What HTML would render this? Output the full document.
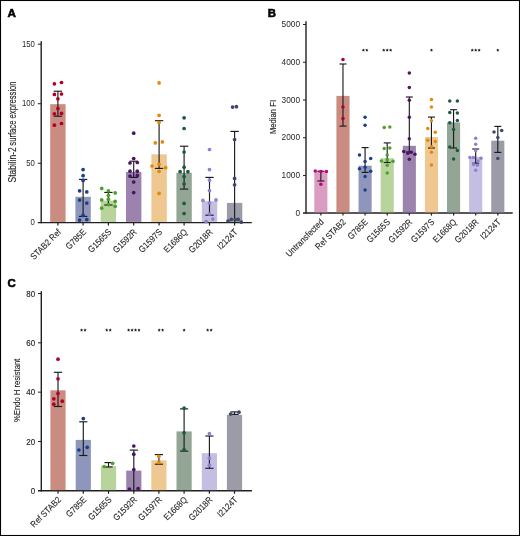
<!DOCTYPE html>
<html><head><meta charset="utf-8"><style>
html,body{margin:0;padding:0;background:#fff;}
svg{display:block;will-change:transform;}
text{font-family:"Liberation Sans", sans-serif;}
</style></head><body>
<svg width="520" height="536" viewBox="0 0 520 536" fill="#231f20">
<rect x="0" y="0" width="520" height="536" fill="#fff"/>
<text x="7.50" y="17.00" font-size="11.7" text-anchor="start" font-weight="bold" fill="#000" stroke="#000" stroke-width="0.55">A</text>
<line x1="41.20" y1="41.20" x2="41.20" y2="223.20" stroke="#231f20" stroke-width="1.4"/>
<line x1="37.80" y1="222.60" x2="251.80" y2="222.60" stroke="#231f20" stroke-width="1.4"/>
<line x1="37.80" y1="44.19" x2="41.20" y2="44.19" stroke="#231f20" stroke-width="1.0"/>
<line x1="37.80" y1="103.73" x2="41.20" y2="103.73" stroke="#231f20" stroke-width="1.0"/>
<line x1="37.80" y1="163.26" x2="41.20" y2="163.26" stroke="#231f20" stroke-width="1.0"/>
<text x="34.90" y="46.59" font-size="9.3" text-anchor="end" textLength="12.899999999999999" lengthAdjust="spacingAndGlyphs">150</text>
<text x="34.90" y="106.13" font-size="9.3" text-anchor="end" textLength="12.899999999999999" lengthAdjust="spacingAndGlyphs">100</text>
<text x="34.90" y="165.66" font-size="9.3" text-anchor="end" textLength="8.6" lengthAdjust="spacingAndGlyphs">50</text>
<text x="34.90" y="225.20" font-size="9.3" text-anchor="end" textLength="4.3" lengthAdjust="spacingAndGlyphs">0</text>
<text x="16.20" y="182.40" font-size="10.8" text-anchor="start" textLength="35.2" lengthAdjust="spacingAndGlyphs" transform="rotate(-90 16.20 182.40)" stroke="#231f20" stroke-width="0.14">Stabilin-2</text>
<text x="16.20" y="81.40" font-size="10.8" text-anchor="end" textLength="64.3" lengthAdjust="spacingAndGlyphs" transform="rotate(-90 16.20 81.40)" stroke="#231f20" stroke-width="0.14">surface expression</text>
<rect x="50.20" y="104.20" width="15.40" height="117.70" fill="#ca8b80"/>
<line x1="57.90" y1="91.20" x2="57.90" y2="116.20" stroke="#1c1c1e" stroke-width="1.15"/>
<line x1="53.70" y1="91.20" x2="62.10" y2="91.20" stroke="#1c1c1e" stroke-width="1.15"/>
<line x1="53.70" y1="116.20" x2="62.10" y2="116.20" stroke="#1c1c1e" stroke-width="1.15"/>
<circle cx="54.40" cy="83.80" r="1.85" fill="#b00026"/>
<circle cx="61.50" cy="82.50" r="1.85" fill="#b00026"/>
<circle cx="54.40" cy="94.40" r="1.85" fill="#b00026"/>
<circle cx="61.50" cy="94.00" r="1.85" fill="#b00026"/>
<circle cx="57.90" cy="98.80" r="1.85" fill="#b00026"/>
<circle cx="57.90" cy="108.50" r="1.85" fill="#b00026"/>
<circle cx="54.40" cy="113.80" r="1.85" fill="#b00026"/>
<circle cx="61.50" cy="113.30" r="1.85" fill="#b00026"/>
<circle cx="54.40" cy="125.20" r="1.85" fill="#b00026"/>
<circle cx="61.50" cy="123.50" r="1.85" fill="#b00026"/>
<line x1="57.90" y1="222.60" x2="57.90" y2="225.60" stroke="#231f20" stroke-width="1.2"/>
<text x="61.60" y="232.60" font-size="9.0" text-anchor="end" textLength="39.03" lengthAdjust="spacingAndGlyphs" transform="rotate(-45 61.60 232.60)" stroke="#231f20" stroke-width="0.12">STAB2 Ref</text>
<rect x="75.40" y="196.80" width="15.40" height="25.10" fill="#8e96bb"/>
<line x1="83.10" y1="179.40" x2="83.10" y2="216.40" stroke="#1c1c1e" stroke-width="1.15"/>
<line x1="78.90" y1="179.40" x2="87.30" y2="179.40" stroke="#1c1c1e" stroke-width="1.15"/>
<line x1="78.90" y1="216.40" x2="87.30" y2="216.40" stroke="#1c1c1e" stroke-width="1.15"/>
<circle cx="83.10" cy="169.60" r="1.85" fill="#1c3e87"/>
<circle cx="83.10" cy="175.70" r="1.85" fill="#1c3e87"/>
<circle cx="83.10" cy="180.40" r="1.85" fill="#1c3e87"/>
<circle cx="79.60" cy="190.80" r="1.85" fill="#1c3e87"/>
<circle cx="86.80" cy="191.90" r="1.85" fill="#1c3e87"/>
<circle cx="79.60" cy="200.10" r="1.85" fill="#1c3e87"/>
<circle cx="86.80" cy="203.10" r="1.85" fill="#1c3e87"/>
<circle cx="83.10" cy="215.40" r="1.85" fill="#1c3e87"/>
<circle cx="79.60" cy="220.10" r="1.85" fill="#1c3e87"/>
<circle cx="86.80" cy="219.60" r="1.85" fill="#1c3e87"/>
<line x1="83.10" y1="222.60" x2="83.10" y2="225.60" stroke="#231f20" stroke-width="1.2"/>
<text x="86.80" y="232.60" font-size="9.0" text-anchor="end" textLength="24.66" lengthAdjust="spacingAndGlyphs" transform="rotate(-45 86.80 232.60)" stroke="#231f20" stroke-width="0.12">G785E</text>
<rect x="100.70" y="200.60" width="15.40" height="21.30" fill="#b9d39c"/>
<line x1="108.40" y1="192.40" x2="108.40" y2="205.00" stroke="#1c1c1e" stroke-width="1.15"/>
<line x1="104.20" y1="192.40" x2="112.60" y2="192.40" stroke="#1c1c1e" stroke-width="1.15"/>
<line x1="104.20" y1="205.00" x2="112.60" y2="205.00" stroke="#1c1c1e" stroke-width="1.15"/>
<circle cx="101.70" cy="188.40" r="1.85" fill="#4ba02b"/>
<circle cx="108.40" cy="190.80" r="1.85" fill="#4ba02b"/>
<circle cx="115.20" cy="192.90" r="1.85" fill="#4ba02b"/>
<circle cx="108.40" cy="195.30" r="1.85" fill="#4ba02b"/>
<circle cx="101.70" cy="199.90" r="1.85" fill="#4ba02b"/>
<circle cx="108.40" cy="199.20" r="1.85" fill="#4ba02b"/>
<circle cx="115.20" cy="201.40" r="1.85" fill="#4ba02b"/>
<circle cx="108.40" cy="204.60" r="1.85" fill="#4ba02b"/>
<circle cx="115.20" cy="206.30" r="1.85" fill="#4ba02b"/>
<circle cx="101.70" cy="208.20" r="1.85" fill="#4ba02b"/>
<line x1="108.40" y1="222.60" x2="108.40" y2="225.60" stroke="#231f20" stroke-width="1.2"/>
<text x="112.10" y="232.60" font-size="9.0" text-anchor="end" textLength="29.06" lengthAdjust="spacingAndGlyphs" transform="rotate(-45 112.10 232.60)" stroke="#231f20" stroke-width="0.12">G1565S</text>
<rect x="126.00" y="172.00" width="15.40" height="49.90" fill="#9b83ad"/>
<line x1="133.70" y1="161.20" x2="133.70" y2="177.40" stroke="#1c1c1e" stroke-width="1.15"/>
<line x1="129.50" y1="161.20" x2="137.90" y2="161.20" stroke="#1c1c1e" stroke-width="1.15"/>
<line x1="129.50" y1="177.40" x2="137.90" y2="177.40" stroke="#1c1c1e" stroke-width="1.15"/>
<circle cx="133.70" cy="133.20" r="1.85" fill="#4a1463"/>
<circle cx="133.70" cy="158.50" r="1.85" fill="#4a1463"/>
<circle cx="130.00" cy="163.00" r="1.85" fill="#4a1463"/>
<circle cx="137.30" cy="162.50" r="1.85" fill="#4a1463"/>
<circle cx="130.00" cy="171.20" r="1.85" fill="#4a1463"/>
<circle cx="137.30" cy="171.20" r="1.85" fill="#4a1463"/>
<circle cx="130.00" cy="176.10" r="1.85" fill="#4a1463"/>
<circle cx="137.30" cy="175.40" r="1.85" fill="#4a1463"/>
<circle cx="133.70" cy="182.00" r="1.85" fill="#4a1463"/>
<circle cx="133.70" cy="192.60" r="1.85" fill="#4a1463"/>
<line x1="133.70" y1="222.60" x2="133.70" y2="225.60" stroke="#231f20" stroke-width="1.2"/>
<text x="137.40" y="232.60" font-size="9.0" text-anchor="end" textLength="29.5" lengthAdjust="spacingAndGlyphs" transform="rotate(-45 137.40 232.60)" stroke="#231f20" stroke-width="0.12">G1592R</text>
<rect x="151.40" y="154.30" width="15.40" height="67.60" fill="#eec890"/>
<line x1="159.10" y1="120.70" x2="159.10" y2="168.40" stroke="#1c1c1e" stroke-width="1.15"/>
<line x1="154.90" y1="120.70" x2="163.30" y2="120.70" stroke="#1c1c1e" stroke-width="1.15"/>
<line x1="154.90" y1="168.40" x2="163.30" y2="168.40" stroke="#1c1c1e" stroke-width="1.15"/>
<circle cx="159.10" cy="82.90" r="1.85" fill="#e3890c"/>
<circle cx="159.10" cy="115.30" r="1.85" fill="#e3890c"/>
<circle cx="159.10" cy="122.50" r="1.85" fill="#e3890c"/>
<circle cx="155.30" cy="142.90" r="1.85" fill="#e3890c"/>
<circle cx="162.40" cy="141.90" r="1.85" fill="#e3890c"/>
<circle cx="159.10" cy="164.30" r="1.85" fill="#e3890c"/>
<circle cx="152.00" cy="166.00" r="1.85" fill="#e3890c"/>
<circle cx="165.70" cy="167.70" r="1.85" fill="#e3890c"/>
<circle cx="159.10" cy="171.30" r="1.85" fill="#e3890c"/>
<circle cx="159.10" cy="193.40" r="1.85" fill="#e3890c"/>
<line x1="159.10" y1="222.60" x2="159.10" y2="225.60" stroke="#231f20" stroke-width="1.2"/>
<text x="162.80" y="232.60" font-size="9.0" text-anchor="end" textLength="29.06" lengthAdjust="spacingAndGlyphs" transform="rotate(-45 162.80 232.60)" stroke="#231f20" stroke-width="0.12">G1597S</text>
<rect x="176.40" y="172.80" width="15.40" height="49.10" fill="#93a696"/>
<line x1="184.10" y1="146.20" x2="184.10" y2="189.10" stroke="#1c1c1e" stroke-width="1.15"/>
<line x1="179.90" y1="146.20" x2="188.30" y2="146.20" stroke="#1c1c1e" stroke-width="1.15"/>
<line x1="179.90" y1="189.10" x2="188.30" y2="189.10" stroke="#1c1c1e" stroke-width="1.15"/>
<circle cx="184.10" cy="117.80" r="1.85" fill="#1c5a3f"/>
<circle cx="184.10" cy="128.50" r="1.85" fill="#1c5a3f"/>
<circle cx="184.10" cy="152.00" r="1.85" fill="#1c5a3f"/>
<circle cx="184.10" cy="167.20" r="1.85" fill="#1c5a3f"/>
<circle cx="180.10" cy="171.70" r="1.85" fill="#1c5a3f"/>
<circle cx="187.90" cy="171.70" r="1.85" fill="#1c5a3f"/>
<circle cx="184.10" cy="176.60" r="1.85" fill="#1c5a3f"/>
<circle cx="184.10" cy="184.00" r="1.85" fill="#1c5a3f"/>
<circle cx="184.10" cy="203.40" r="1.85" fill="#1c5a3f"/>
<circle cx="184.10" cy="213.50" r="1.85" fill="#1c5a3f"/>
<line x1="184.10" y1="222.60" x2="184.10" y2="225.60" stroke="#231f20" stroke-width="1.2"/>
<text x="187.80" y="232.60" font-size="9.0" text-anchor="end" textLength="29.06" lengthAdjust="spacingAndGlyphs" transform="rotate(-45 187.80 232.60)" stroke="#231f20" stroke-width="0.12">E1686Q</text>
<rect x="201.80" y="201.20" width="15.40" height="20.70" fill="#c3bee2"/>
<line x1="209.50" y1="177.40" x2="209.50" y2="215.20" stroke="#1c1c1e" stroke-width="1.15"/>
<line x1="205.30" y1="177.40" x2="213.70" y2="177.40" stroke="#1c1c1e" stroke-width="1.15"/>
<line x1="205.30" y1="215.20" x2="213.70" y2="215.20" stroke="#1c1c1e" stroke-width="1.15"/>
<circle cx="209.50" cy="149.50" r="1.85" fill="#8f82cf"/>
<circle cx="209.50" cy="169.60" r="1.85" fill="#8f82cf"/>
<circle cx="209.50" cy="180.20" r="1.85" fill="#8f82cf"/>
<circle cx="209.50" cy="190.60" r="1.85" fill="#8f82cf"/>
<circle cx="202.90" cy="200.40" r="1.85" fill="#8f82cf"/>
<circle cx="216.00" cy="199.90" r="1.85" fill="#8f82cf"/>
<circle cx="209.50" cy="202.90" r="1.85" fill="#8f82cf"/>
<circle cx="209.50" cy="213.90" r="1.85" fill="#8f82cf"/>
<circle cx="212.90" cy="219.10" r="1.85" fill="#8f82cf"/>
<circle cx="206.20" cy="221.60" r="1.85" fill="#8f82cf"/>
<line x1="209.50" y1="222.60" x2="209.50" y2="225.60" stroke="#231f20" stroke-width="1.2"/>
<text x="213.20" y="232.60" font-size="9.0" text-anchor="end" textLength="29.5" lengthAdjust="spacingAndGlyphs" transform="rotate(-45 213.20 232.60)" stroke="#231f20" stroke-width="0.12">G2018R</text>
<rect x="226.90" y="202.90" width="15.40" height="19.00" fill="#9c9ca9"/>
<line x1="234.60" y1="131.40" x2="234.60" y2="222.60" stroke="#1c1c1e" stroke-width="1.15"/>
<line x1="230.40" y1="131.40" x2="238.80" y2="131.40" stroke="#1c1c1e" stroke-width="1.15"/>
<circle cx="232.60" cy="107.10" r="1.85" fill="#3d4868"/>
<circle cx="236.40" cy="106.70" r="1.85" fill="#3d4868"/>
<circle cx="234.60" cy="139.50" r="1.85" fill="#3d4868"/>
<circle cx="234.60" cy="178.40" r="1.85" fill="#3d4868"/>
<circle cx="234.60" cy="184.80" r="1.85" fill="#3d4868"/>
<circle cx="228.00" cy="221.00" r="1.85" fill="#3d4868"/>
<circle cx="231.30" cy="219.40" r="1.85" fill="#3d4868"/>
<circle cx="235.20" cy="219.60" r="1.85" fill="#3d4868"/>
<circle cx="238.20" cy="219.40" r="1.85" fill="#3d4868"/>
<circle cx="241.30" cy="222.20" r="1.85" fill="#3d4868"/>
<line x1="234.60" y1="222.60" x2="234.60" y2="225.60" stroke="#231f20" stroke-width="1.2"/>
<text x="238.30" y="232.60" font-size="9.0" text-anchor="end" textLength="24.65" lengthAdjust="spacingAndGlyphs" transform="rotate(-45 238.30 232.60)" stroke="#231f20" stroke-width="0.12">I2124T</text>
<text x="267.70" y="17.00" font-size="11.4" text-anchor="start" font-weight="bold" fill="#000" stroke="#000" stroke-width="0.55">B</text>
<line x1="306.00" y1="21.30" x2="306.00" y2="213.60" stroke="#231f20" stroke-width="1.4"/>
<line x1="303.00" y1="213.00" x2="512.70" y2="213.00" stroke="#231f20" stroke-width="1.4"/>
<line x1="303.00" y1="24.50" x2="306.00" y2="24.50" stroke="#231f20" stroke-width="1.0"/>
<line x1="303.00" y1="62.26" x2="306.00" y2="62.26" stroke="#231f20" stroke-width="1.0"/>
<line x1="303.00" y1="100.02" x2="306.00" y2="100.02" stroke="#231f20" stroke-width="1.0"/>
<line x1="303.00" y1="137.78" x2="306.00" y2="137.78" stroke="#231f20" stroke-width="1.0"/>
<line x1="303.00" y1="175.54" x2="306.00" y2="175.54" stroke="#231f20" stroke-width="1.0"/>
<text x="300.10" y="27.00" font-size="9.0" text-anchor="end" textLength="18.48" lengthAdjust="spacingAndGlyphs">5000</text>
<text x="300.10" y="64.76" font-size="9.0" text-anchor="end" textLength="18.48" lengthAdjust="spacingAndGlyphs">4000</text>
<text x="300.10" y="102.52" font-size="9.0" text-anchor="end" textLength="18.48" lengthAdjust="spacingAndGlyphs">3000</text>
<text x="300.10" y="140.28" font-size="9.0" text-anchor="end" textLength="18.48" lengthAdjust="spacingAndGlyphs">2000</text>
<text x="300.10" y="178.04" font-size="9.0" text-anchor="end" textLength="18.48" lengthAdjust="spacingAndGlyphs">1000</text>
<text x="300.10" y="215.80" font-size="9.0" text-anchor="end" textLength="4.62" lengthAdjust="spacingAndGlyphs">0</text>
<text x="276.10" y="117.00" font-size="9.9" text-anchor="middle" textLength="34.1" lengthAdjust="spacingAndGlyphs" transform="rotate(-90 276.10 117.00)" stroke="#231f20" stroke-width="0.14">Median FI</text>
<rect x="314.30" y="171.20" width="13.10" height="41.10" fill="#da9cc0"/>
<line x1="320.85" y1="171.20" x2="320.85" y2="181.00" stroke="#1c1c1e" stroke-width="1.15"/>
<line x1="317.35" y1="171.20" x2="324.35" y2="171.20" stroke="#1c1c1e" stroke-width="1.15"/>
<line x1="317.35" y1="181.00" x2="324.35" y2="181.00" stroke="#1c1c1e" stroke-width="1.15"/>
<circle cx="315.25" cy="171.00" r="1.75" fill="#c3007d"/>
<circle cx="320.85" cy="171.50" r="1.75" fill="#c3007d"/>
<circle cx="326.45" cy="171.50" r="1.75" fill="#c3007d"/>
<circle cx="320.85" cy="184.30" r="1.75" fill="#c3007d"/>
<line x1="320.85" y1="213.00" x2="320.85" y2="215.60" stroke="#231f20" stroke-width="1.2"/>
<text x="324.35" y="222.60" font-size="9.0" text-anchor="end" textLength="49.3" lengthAdjust="spacingAndGlyphs" transform="rotate(-45 324.35 222.60)" stroke="#231f20" stroke-width="0.12">Untransfected</text>
<rect x="336.42" y="95.90" width="13.10" height="116.40" fill="#ca8b80"/>
<line x1="342.97" y1="64.00" x2="342.97" y2="126.10" stroke="#1c1c1e" stroke-width="1.15"/>
<line x1="339.47" y1="64.00" x2="346.47" y2="64.00" stroke="#1c1c1e" stroke-width="1.15"/>
<line x1="339.47" y1="126.10" x2="346.47" y2="126.10" stroke="#1c1c1e" stroke-width="1.15"/>
<circle cx="342.97" cy="59.40" r="1.75" fill="#b00026"/>
<circle cx="342.97" cy="107.00" r="1.75" fill="#b00026"/>
<circle cx="342.97" cy="118.50" r="1.75" fill="#b00026"/>
<line x1="342.97" y1="213.00" x2="342.97" y2="215.60" stroke="#231f20" stroke-width="1.2"/>
<text x="346.47" y="222.60" font-size="9.0" text-anchor="end" textLength="39.03" lengthAdjust="spacingAndGlyphs" transform="rotate(-45 346.47 222.60)" stroke="#231f20" stroke-width="0.12">Ref STAB2</text>
<rect x="358.54" y="165.70" width="13.10" height="46.60" fill="#8e96bb"/>
<line x1="365.09" y1="147.60" x2="365.09" y2="172.40" stroke="#1c1c1e" stroke-width="1.15"/>
<line x1="361.59" y1="147.60" x2="368.59" y2="147.60" stroke="#1c1c1e" stroke-width="1.15"/>
<line x1="361.59" y1="172.40" x2="368.59" y2="172.40" stroke="#1c1c1e" stroke-width="1.15"/>
<circle cx="365.09" cy="117.20" r="1.75" fill="#1c3e87"/>
<circle cx="365.09" cy="125.20" r="1.75" fill="#1c3e87"/>
<circle cx="359.49" cy="155.00" r="1.75" fill="#1c3e87"/>
<circle cx="370.69" cy="158.40" r="1.75" fill="#1c3e87"/>
<circle cx="365.09" cy="161.60" r="1.75" fill="#1c3e87"/>
<circle cx="365.09" cy="167.20" r="1.75" fill="#1c3e87"/>
<circle cx="359.49" cy="168.70" r="1.75" fill="#1c3e87"/>
<circle cx="370.69" cy="171.30" r="1.75" fill="#1c3e87"/>
<circle cx="365.09" cy="176.50" r="1.75" fill="#1c3e87"/>
<circle cx="365.09" cy="189.90" r="1.75" fill="#1c3e87"/>
<line x1="365.09" y1="213.00" x2="365.09" y2="215.60" stroke="#231f20" stroke-width="1.2"/>
<text x="368.59" y="222.60" font-size="9.0" text-anchor="end" textLength="24.66" lengthAdjust="spacingAndGlyphs" transform="rotate(-45 368.59 222.60)" stroke="#231f20" stroke-width="0.12">G785E</text>
<polygon points="363.37,48.45 363.84,49.55 365.03,49.66 364.13,50.45 364.39,51.62 363.37,51.00 362.34,51.62 362.60,50.45 361.70,49.66 362.89,49.55" fill="#1a1a1a"/>
<polygon points="366.81,48.45 367.29,49.55 368.48,49.66 367.58,50.45 367.84,51.62 366.81,51.00 365.79,51.62 366.05,50.45 365.15,49.66 366.34,49.55" fill="#1a1a1a"/>
<rect x="380.66" y="158.20" width="13.10" height="54.10" fill="#b9d39c"/>
<line x1="387.21" y1="142.90" x2="387.21" y2="162.50" stroke="#1c1c1e" stroke-width="1.15"/>
<line x1="383.71" y1="142.90" x2="390.71" y2="142.90" stroke="#1c1c1e" stroke-width="1.15"/>
<line x1="383.71" y1="162.50" x2="390.71" y2="162.50" stroke="#1c1c1e" stroke-width="1.15"/>
<circle cx="384.21" cy="127.60" r="1.75" fill="#4ba02b"/>
<circle cx="389.81" cy="127.10" r="1.75" fill="#4ba02b"/>
<circle cx="384.21" cy="148.50" r="1.75" fill="#4ba02b"/>
<circle cx="389.81" cy="148.00" r="1.75" fill="#4ba02b"/>
<circle cx="387.21" cy="155.00" r="1.75" fill="#4ba02b"/>
<circle cx="381.41" cy="161.00" r="1.75" fill="#4ba02b"/>
<circle cx="387.21" cy="159.70" r="1.75" fill="#4ba02b"/>
<circle cx="393.01" cy="161.20" r="1.75" fill="#4ba02b"/>
<circle cx="387.21" cy="165.30" r="1.75" fill="#4ba02b"/>
<circle cx="387.21" cy="173.10" r="1.75" fill="#4ba02b"/>
<line x1="387.21" y1="213.00" x2="387.21" y2="215.60" stroke="#231f20" stroke-width="1.2"/>
<text x="390.71" y="222.60" font-size="9.0" text-anchor="end" textLength="29.06" lengthAdjust="spacingAndGlyphs" transform="rotate(-45 390.71 222.60)" stroke="#231f20" stroke-width="0.12">G1565S</text>
<polygon points="383.76,48.45 384.23,49.55 385.42,49.66 384.52,50.45 384.79,51.62 383.76,51.00 382.73,51.62 383.00,50.45 382.10,49.66 383.29,49.55" fill="#1a1a1a"/>
<polygon points="387.21,48.45 387.68,49.55 388.87,49.66 387.97,50.45 388.24,51.62 387.21,51.00 386.18,51.62 386.45,50.45 385.55,49.66 386.74,49.55" fill="#1a1a1a"/>
<polygon points="390.66,48.45 391.13,49.55 392.32,49.66 391.42,50.45 391.69,51.62 390.66,51.00 389.63,51.62 389.90,50.45 389.00,49.66 390.19,49.55" fill="#1a1a1a"/>
<rect x="402.78" y="145.80" width="13.10" height="66.50" fill="#9b83ad"/>
<line x1="409.33" y1="97.00" x2="409.33" y2="152.00" stroke="#1c1c1e" stroke-width="1.15"/>
<line x1="405.83" y1="97.00" x2="412.83" y2="97.00" stroke="#1c1c1e" stroke-width="1.15"/>
<line x1="405.83" y1="152.00" x2="412.83" y2="152.00" stroke="#1c1c1e" stroke-width="1.15"/>
<circle cx="409.33" cy="72.90" r="1.75" fill="#4a1463"/>
<circle cx="409.33" cy="87.50" r="1.75" fill="#4a1463"/>
<circle cx="409.33" cy="100.30" r="1.75" fill="#4a1463"/>
<circle cx="409.33" cy="117.30" r="1.75" fill="#4a1463"/>
<circle cx="409.33" cy="138.70" r="1.75" fill="#4a1463"/>
<circle cx="403.73" cy="151.40" r="1.75" fill="#4a1463"/>
<circle cx="407.83" cy="153.20" r="1.75" fill="#4a1463"/>
<circle cx="411.13" cy="152.30" r="1.75" fill="#4a1463"/>
<circle cx="414.93" cy="154.20" r="1.75" fill="#4a1463"/>
<circle cx="409.33" cy="159.20" r="1.75" fill="#4a1463"/>
<line x1="409.33" y1="213.00" x2="409.33" y2="215.60" stroke="#231f20" stroke-width="1.2"/>
<text x="412.83" y="222.60" font-size="9.0" text-anchor="end" textLength="29.5" lengthAdjust="spacingAndGlyphs" transform="rotate(-45 412.83 222.60)" stroke="#231f20" stroke-width="0.12">G1592R</text>
<rect x="424.90" y="137.00" width="13.10" height="75.30" fill="#eec890"/>
<line x1="431.45" y1="117.10" x2="431.45" y2="148.00" stroke="#1c1c1e" stroke-width="1.15"/>
<line x1="427.95" y1="117.10" x2="434.95" y2="117.10" stroke="#1c1c1e" stroke-width="1.15"/>
<line x1="427.95" y1="148.00" x2="434.95" y2="148.00" stroke="#1c1c1e" stroke-width="1.15"/>
<circle cx="431.45" cy="99.60" r="1.75" fill="#e3890c"/>
<circle cx="431.45" cy="107.00" r="1.75" fill="#e3890c"/>
<circle cx="431.45" cy="120.70" r="1.75" fill="#e3890c"/>
<circle cx="427.75" cy="128.60" r="1.75" fill="#e3890c"/>
<circle cx="435.25" cy="132.20" r="1.75" fill="#e3890c"/>
<circle cx="427.75" cy="140.20" r="1.75" fill="#e3890c"/>
<circle cx="435.25" cy="141.50" r="1.75" fill="#e3890c"/>
<circle cx="431.45" cy="146.70" r="1.75" fill="#e3890c"/>
<circle cx="431.45" cy="152.30" r="1.75" fill="#e3890c"/>
<circle cx="431.45" cy="165.00" r="1.75" fill="#e3890c"/>
<line x1="431.45" y1="213.00" x2="431.45" y2="215.60" stroke="#231f20" stroke-width="1.2"/>
<text x="434.95" y="222.60" font-size="9.0" text-anchor="end" textLength="29.06" lengthAdjust="spacingAndGlyphs" transform="rotate(-45 434.95 222.60)" stroke="#231f20" stroke-width="0.12">G1597S</text>
<polygon points="431.45,48.45 431.92,49.55 433.11,49.66 432.21,50.45 432.48,51.62 431.45,51.00 430.42,51.62 430.69,50.45 429.79,49.66 430.98,49.55" fill="#1a1a1a"/>
<rect x="447.02" y="122.40" width="13.10" height="89.90" fill="#93a696"/>
<line x1="453.57" y1="109.70" x2="453.57" y2="148.00" stroke="#1c1c1e" stroke-width="1.15"/>
<line x1="450.07" y1="109.70" x2="457.07" y2="109.70" stroke="#1c1c1e" stroke-width="1.15"/>
<line x1="450.07" y1="148.00" x2="457.07" y2="148.00" stroke="#1c1c1e" stroke-width="1.15"/>
<circle cx="449.77" cy="100.90" r="1.75" fill="#1c5a3f"/>
<circle cx="457.37" cy="100.90" r="1.75" fill="#1c5a3f"/>
<circle cx="449.77" cy="112.40" r="1.75" fill="#1c5a3f"/>
<circle cx="457.37" cy="113.00" r="1.75" fill="#1c5a3f"/>
<circle cx="457.37" cy="120.40" r="1.75" fill="#1c5a3f"/>
<circle cx="449.77" cy="122.80" r="1.75" fill="#1c5a3f"/>
<circle cx="453.57" cy="129.50" r="1.75" fill="#1c5a3f"/>
<circle cx="449.77" cy="147.00" r="1.75" fill="#1c5a3f"/>
<circle cx="457.37" cy="150.40" r="1.75" fill="#1c5a3f"/>
<circle cx="453.57" cy="159.10" r="1.75" fill="#1c5a3f"/>
<line x1="453.57" y1="213.00" x2="453.57" y2="215.60" stroke="#231f20" stroke-width="1.2"/>
<text x="457.07" y="222.60" font-size="9.0" text-anchor="end" textLength="29.06" lengthAdjust="spacingAndGlyphs" transform="rotate(-45 457.07 222.60)" stroke="#231f20" stroke-width="0.12">E1668Q</text>
<rect x="469.14" y="156.80" width="13.10" height="55.50" fill="#c3bee2"/>
<line x1="475.69" y1="149.00" x2="475.69" y2="163.20" stroke="#1c1c1e" stroke-width="1.15"/>
<line x1="472.19" y1="149.00" x2="479.19" y2="149.00" stroke="#1c1c1e" stroke-width="1.15"/>
<line x1="472.19" y1="163.20" x2="479.19" y2="163.20" stroke="#1c1c1e" stroke-width="1.15"/>
<circle cx="475.69" cy="138.30" r="1.75" fill="#8f82cf"/>
<circle cx="475.69" cy="144.30" r="1.75" fill="#8f82cf"/>
<circle cx="475.69" cy="150.80" r="1.75" fill="#8f82cf"/>
<circle cx="469.89" cy="157.40" r="1.75" fill="#8f82cf"/>
<circle cx="473.39" cy="157.40" r="1.75" fill="#8f82cf"/>
<circle cx="480.99" cy="158.20" r="1.75" fill="#8f82cf"/>
<circle cx="477.99" cy="160.90" r="1.75" fill="#8f82cf"/>
<circle cx="473.59" cy="164.50" r="1.75" fill="#8f82cf"/>
<circle cx="477.39" cy="165.20" r="1.75" fill="#8f82cf"/>
<circle cx="475.69" cy="170.20" r="1.75" fill="#8f82cf"/>
<line x1="475.69" y1="213.00" x2="475.69" y2="215.60" stroke="#231f20" stroke-width="1.2"/>
<text x="479.19" y="222.60" font-size="9.0" text-anchor="end" textLength="29.5" lengthAdjust="spacingAndGlyphs" transform="rotate(-45 479.19 222.60)" stroke="#231f20" stroke-width="0.12">G2018R</text>
<polygon points="472.24,48.45 472.71,49.55 473.90,49.66 473.00,50.45 473.27,51.62 472.24,51.00 471.21,51.62 471.48,50.45 470.58,49.66 471.77,49.55" fill="#1a1a1a"/>
<polygon points="475.69,48.45 476.16,49.55 477.35,49.66 476.45,50.45 476.72,51.62 475.69,51.00 474.66,51.62 474.93,50.45 474.03,49.66 475.22,49.55" fill="#1a1a1a"/>
<polygon points="479.14,48.45 479.61,49.55 480.80,49.66 479.90,50.45 480.17,51.62 479.14,51.00 478.11,51.62 478.38,50.45 477.48,49.66 478.67,49.55" fill="#1a1a1a"/>
<rect x="491.26" y="140.70" width="13.10" height="71.60" fill="#9c9ca9"/>
<line x1="497.81" y1="126.40" x2="497.81" y2="152.40" stroke="#1c1c1e" stroke-width="1.15"/>
<line x1="494.31" y1="126.40" x2="501.31" y2="126.40" stroke="#1c1c1e" stroke-width="1.15"/>
<line x1="494.31" y1="152.40" x2="501.31" y2="152.40" stroke="#1c1c1e" stroke-width="1.15"/>
<circle cx="494.01" cy="131.90" r="1.75" fill="#3d4868"/>
<circle cx="501.71" cy="130.50" r="1.75" fill="#3d4868"/>
<circle cx="497.81" cy="137.60" r="1.75" fill="#3d4868"/>
<circle cx="497.81" cy="158.50" r="1.75" fill="#3d4868"/>
<line x1="497.81" y1="213.00" x2="497.81" y2="215.60" stroke="#231f20" stroke-width="1.2"/>
<text x="501.31" y="222.60" font-size="9.0" text-anchor="end" textLength="24.65" lengthAdjust="spacingAndGlyphs" transform="rotate(-45 501.31 222.60)" stroke="#231f20" stroke-width="0.12">I2124T</text>
<polygon points="497.81,48.45 498.28,49.55 499.47,49.66 498.57,50.45 498.84,51.62 497.81,51.00 496.78,51.62 497.05,50.45 496.15,49.66 497.34,49.55" fill="#1a1a1a"/>
<text x="7.40" y="286.90" font-size="11.4" text-anchor="start" font-weight="bold" fill="#000" stroke="#000" stroke-width="0.55">C</text>
<line x1="41.30" y1="291.20" x2="41.30" y2="491.40" stroke="#231f20" stroke-width="1.4"/>
<line x1="38.00" y1="490.80" x2="251.90" y2="490.80" stroke="#231f20" stroke-width="1.4"/>
<line x1="38.00" y1="293.50" x2="41.30" y2="293.50" stroke="#231f20" stroke-width="1.0"/>
<line x1="38.00" y1="342.82" x2="41.30" y2="342.82" stroke="#231f20" stroke-width="1.0"/>
<line x1="38.00" y1="392.15" x2="41.30" y2="392.15" stroke="#231f20" stroke-width="1.0"/>
<line x1="38.00" y1="441.47" x2="41.30" y2="441.47" stroke="#231f20" stroke-width="1.0"/>
<text x="35.10" y="296.70" font-size="8.9" text-anchor="end" textLength="8.8" lengthAdjust="spacingAndGlyphs" stroke="#231f20" stroke-width="0.15">80</text>
<text x="35.10" y="346.02" font-size="8.9" text-anchor="end" textLength="8.8" lengthAdjust="spacingAndGlyphs" stroke="#231f20" stroke-width="0.15">60</text>
<text x="35.10" y="395.35" font-size="8.9" text-anchor="end" textLength="8.8" lengthAdjust="spacingAndGlyphs" stroke="#231f20" stroke-width="0.15">40</text>
<text x="35.10" y="444.67" font-size="8.9" text-anchor="end" textLength="8.8" lengthAdjust="spacingAndGlyphs" stroke="#231f20" stroke-width="0.15">20</text>
<text x="35.10" y="494.00" font-size="8.9" text-anchor="end" textLength="4.4" lengthAdjust="spacingAndGlyphs" stroke="#231f20" stroke-width="0.15">0</text>
<text x="20.20" y="390.30" font-size="9.9" text-anchor="middle" textLength="63.4" lengthAdjust="spacingAndGlyphs" transform="rotate(-90 20.20 390.30)" stroke="#231f20" stroke-width="0.14">%Endo H resistant</text>
<rect x="50.40" y="390.30" width="15.20" height="99.80" fill="#ca8b80"/>
<line x1="58.00" y1="372.30" x2="58.00" y2="406.50" stroke="#1c1c1e" stroke-width="1.15"/>
<line x1="53.90" y1="372.30" x2="62.10" y2="372.30" stroke="#1c1c1e" stroke-width="1.15"/>
<line x1="53.90" y1="406.50" x2="62.10" y2="406.50" stroke="#1c1c1e" stroke-width="1.15"/>
<circle cx="58.00" cy="359.20" r="1.85" fill="#b00026"/>
<circle cx="58.00" cy="378.80" r="1.85" fill="#b00026"/>
<circle cx="58.00" cy="393.50" r="1.85" fill="#b00026"/>
<circle cx="53.80" cy="398.80" r="1.85" fill="#b00026"/>
<circle cx="62.30" cy="401.20" r="1.85" fill="#b00026"/>
<circle cx="53.80" cy="404.20" r="1.85" fill="#b00026"/>
<line x1="58.00" y1="490.80" x2="58.00" y2="493.80" stroke="#231f20" stroke-width="1.2"/>
<text x="61.70" y="500.30" font-size="9.0" text-anchor="end" textLength="39.03" lengthAdjust="spacingAndGlyphs" transform="rotate(-45 61.70 500.30)" stroke="#231f20" stroke-width="0.12">Ref STAB2</text>
<rect x="75.70" y="439.90" width="15.20" height="50.20" fill="#8e96bb"/>
<line x1="83.30" y1="421.80" x2="83.30" y2="455.50" stroke="#1c1c1e" stroke-width="1.15"/>
<line x1="79.20" y1="421.80" x2="87.40" y2="421.80" stroke="#1c1c1e" stroke-width="1.15"/>
<line x1="79.20" y1="455.50" x2="87.40" y2="455.50" stroke="#1c1c1e" stroke-width="1.15"/>
<circle cx="83.30" cy="418.60" r="1.85" fill="#1c3e87"/>
<circle cx="78.90" cy="450.00" r="1.85" fill="#1c3e87"/>
<circle cx="87.20" cy="447.30" r="1.85" fill="#1c3e87"/>
<line x1="83.30" y1="490.80" x2="83.30" y2="493.80" stroke="#231f20" stroke-width="1.2"/>
<text x="87.00" y="500.30" font-size="9.0" text-anchor="end" textLength="24.66" lengthAdjust="spacingAndGlyphs" transform="rotate(-45 87.00 500.30)" stroke="#231f20" stroke-width="0.12">G785E</text>
<polygon points="81.58,328.35 82.05,329.45 83.24,329.56 82.34,330.35 82.60,331.52 81.58,330.90 80.55,331.52 80.81,330.35 79.91,329.56 81.10,329.45" fill="#1a1a1a"/>
<polygon points="85.03,328.35 85.50,329.45 86.69,329.56 85.79,330.35 86.05,331.52 85.03,330.90 84.00,331.52 84.26,330.35 83.36,329.56 84.55,329.45" fill="#1a1a1a"/>
<rect x="100.90" y="466.10" width="15.20" height="24.00" fill="#b9d39c"/>
<line x1="108.50" y1="462.60" x2="108.50" y2="467.00" stroke="#1c1c1e" stroke-width="1.15"/>
<line x1="104.40" y1="462.60" x2="112.60" y2="462.60" stroke="#1c1c1e" stroke-width="1.15"/>
<line x1="104.40" y1="467.00" x2="112.60" y2="467.00" stroke="#1c1c1e" stroke-width="1.15"/>
<circle cx="104.20" cy="466.50" r="1.85" fill="#4ba02b"/>
<circle cx="112.60" cy="463.30" r="1.85" fill="#4ba02b"/>
<line x1="108.50" y1="490.80" x2="108.50" y2="493.80" stroke="#231f20" stroke-width="1.2"/>
<text x="112.20" y="500.30" font-size="9.0" text-anchor="end" textLength="29.06" lengthAdjust="spacingAndGlyphs" transform="rotate(-45 112.20 500.30)" stroke="#231f20" stroke-width="0.12">G1565S</text>
<polygon points="106.78,328.35 107.25,329.45 108.44,329.56 107.54,330.35 107.80,331.52 106.78,330.90 105.75,331.52 106.01,330.35 105.11,329.56 106.30,329.45" fill="#1a1a1a"/>
<polygon points="110.23,328.35 110.70,329.45 111.89,329.56 110.99,330.35 111.25,331.52 110.23,330.90 109.20,331.52 109.46,330.35 108.56,329.56 109.75,329.45" fill="#1a1a1a"/>
<rect x="126.20" y="470.60" width="15.20" height="19.50" fill="#9b83ad"/>
<line x1="133.80" y1="450.10" x2="133.80" y2="490.80" stroke="#1c1c1e" stroke-width="1.15"/>
<line x1="129.70" y1="450.10" x2="137.90" y2="450.10" stroke="#1c1c1e" stroke-width="1.15"/>
<circle cx="133.80" cy="446.00" r="1.85" fill="#4a1463"/>
<circle cx="133.80" cy="454.20" r="1.85" fill="#4a1463"/>
<circle cx="133.80" cy="469.50" r="1.85" fill="#4a1463"/>
<circle cx="129.50" cy="489.10" r="1.85" fill="#4a1463"/>
<circle cx="138.10" cy="488.50" r="1.85" fill="#4a1463"/>
<line x1="133.80" y1="490.80" x2="133.80" y2="493.80" stroke="#231f20" stroke-width="1.2"/>
<text x="137.50" y="500.30" font-size="9.0" text-anchor="end" textLength="29.5" lengthAdjust="spacingAndGlyphs" transform="rotate(-45 137.50 500.30)" stroke="#231f20" stroke-width="0.12">G1592R</text>
<polygon points="128.62,328.35 129.10,329.45 130.29,329.56 129.39,330.35 129.65,331.52 128.62,330.90 127.60,331.52 127.86,330.35 126.96,329.56 128.15,329.45" fill="#1a1a1a"/>
<polygon points="132.07,328.35 132.55,329.45 133.74,329.56 132.84,330.35 133.10,331.52 132.07,330.90 131.05,331.52 131.31,330.35 130.41,329.56 131.60,329.45" fill="#1a1a1a"/>
<polygon points="135.53,328.35 136.00,329.45 137.19,329.56 136.29,330.35 136.55,331.52 135.53,330.90 134.50,331.52 134.76,330.35 133.86,329.56 135.05,329.45" fill="#1a1a1a"/>
<polygon points="138.97,328.35 139.45,329.45 140.64,329.56 139.74,330.35 140.00,331.52 138.97,330.90 137.95,331.52 138.21,330.35 137.31,329.56 138.50,329.45" fill="#1a1a1a"/>
<rect x="151.30" y="460.30" width="15.20" height="29.80" fill="#eec890"/>
<line x1="158.90" y1="454.60" x2="158.90" y2="464.20" stroke="#1c1c1e" stroke-width="1.15"/>
<line x1="154.80" y1="454.60" x2="163.00" y2="454.60" stroke="#1c1c1e" stroke-width="1.15"/>
<line x1="154.80" y1="464.20" x2="163.00" y2="464.20" stroke="#1c1c1e" stroke-width="1.15"/>
<circle cx="158.90" cy="456.40" r="1.85" fill="#e3890c"/>
<circle cx="158.90" cy="462.40" r="1.85" fill="#e3890c"/>
<line x1="158.90" y1="490.80" x2="158.90" y2="493.80" stroke="#231f20" stroke-width="1.2"/>
<text x="162.60" y="500.30" font-size="9.0" text-anchor="end" textLength="29.5" lengthAdjust="spacingAndGlyphs" transform="rotate(-45 162.60 500.30)" stroke="#231f20" stroke-width="0.12">G1597R</text>
<polygon points="159.18,328.35 159.65,329.45 160.84,329.56 159.94,330.35 160.20,331.52 159.18,330.90 158.15,331.52 158.41,330.35 157.51,329.56 158.70,329.45" fill="#1a1a1a"/>
<polygon points="162.62,328.35 163.10,329.45 164.29,329.56 163.39,330.35 163.65,331.52 162.62,330.90 161.60,331.52 161.86,330.35 160.96,329.56 162.15,329.45" fill="#1a1a1a"/>
<rect x="176.50" y="431.40" width="15.20" height="58.70" fill="#93a696"/>
<line x1="184.10" y1="408.90" x2="184.10" y2="451.10" stroke="#1c1c1e" stroke-width="1.15"/>
<line x1="180.00" y1="408.90" x2="188.20" y2="408.90" stroke="#1c1c1e" stroke-width="1.15"/>
<line x1="180.00" y1="451.10" x2="188.20" y2="451.10" stroke="#1c1c1e" stroke-width="1.15"/>
<circle cx="184.10" cy="408.00" r="1.85" fill="#1c5a3f"/>
<circle cx="184.10" cy="432.80" r="1.85" fill="#1c5a3f"/>
<circle cx="184.10" cy="449.60" r="1.85" fill="#1c5a3f"/>
<line x1="184.10" y1="490.80" x2="184.10" y2="493.80" stroke="#231f20" stroke-width="1.2"/>
<text x="187.80" y="500.30" font-size="9.0" text-anchor="end" textLength="29.06" lengthAdjust="spacingAndGlyphs" transform="rotate(-45 187.80 500.30)" stroke="#231f20" stroke-width="0.12">E1668Q</text>
<polygon points="184.10,328.35 184.57,329.45 185.76,329.56 184.86,330.35 185.13,331.52 184.10,330.90 183.07,331.52 183.34,330.35 182.44,329.56 183.63,329.45" fill="#1a1a1a"/>
<rect x="201.80" y="453.20" width="15.20" height="36.90" fill="#c3bee2"/>
<line x1="209.40" y1="436.00" x2="209.40" y2="468.30" stroke="#1c1c1e" stroke-width="1.15"/>
<line x1="205.30" y1="436.00" x2="213.50" y2="436.00" stroke="#1c1c1e" stroke-width="1.15"/>
<line x1="205.30" y1="468.30" x2="213.50" y2="468.30" stroke="#1c1c1e" stroke-width="1.15"/>
<circle cx="209.40" cy="433.70" r="1.85" fill="#8f82cf"/>
<circle cx="209.40" cy="458.20" r="1.85" fill="#8f82cf"/>
<circle cx="209.40" cy="465.20" r="1.85" fill="#8f82cf"/>
<line x1="209.40" y1="490.80" x2="209.40" y2="493.80" stroke="#231f20" stroke-width="1.2"/>
<text x="213.10" y="500.30" font-size="9.0" text-anchor="end" textLength="29.5" lengthAdjust="spacingAndGlyphs" transform="rotate(-45 213.10 500.30)" stroke="#231f20" stroke-width="0.12">G2018R</text>
<polygon points="207.68,328.35 208.15,329.45 209.34,329.56 208.44,330.35 208.70,331.52 207.68,330.90 206.65,331.52 206.91,330.35 206.01,329.56 207.20,329.45" fill="#1a1a1a"/>
<polygon points="211.12,328.35 211.60,329.45 212.79,329.56 211.89,330.35 212.15,331.52 211.12,330.90 210.10,331.52 210.36,330.35 209.46,329.56 210.65,329.45" fill="#1a1a1a"/>
<rect x="226.90" y="414.80" width="15.20" height="75.30" fill="#9c9ca9"/>
<line x1="234.50" y1="411.90" x2="234.50" y2="414.40" stroke="#1c1c1e" stroke-width="1.15"/>
<line x1="230.40" y1="411.90" x2="238.60" y2="411.90" stroke="#1c1c1e" stroke-width="1.15"/>
<line x1="230.40" y1="414.40" x2="238.60" y2="414.40" stroke="#1c1c1e" stroke-width="1.15"/>
<circle cx="230.60" cy="414.00" r="1.85" fill="#3d4868"/>
<circle cx="239.00" cy="412.20" r="1.85" fill="#3d4868"/>
<line x1="234.50" y1="490.80" x2="234.50" y2="493.80" stroke="#231f20" stroke-width="1.2"/>
<text x="238.20" y="500.30" font-size="9.0" text-anchor="end" textLength="24.65" lengthAdjust="spacingAndGlyphs" transform="rotate(-45 238.20 500.30)" stroke="#231f20" stroke-width="0.12">I2124T</text>
<rect x="0.5" y="0.5" width="519" height="535" fill="none" stroke="#000" stroke-width="1.1"/>
</svg>
</body></html>
